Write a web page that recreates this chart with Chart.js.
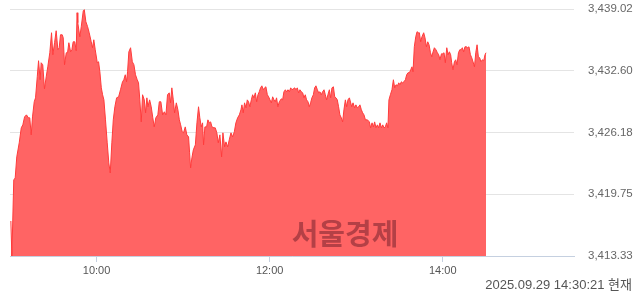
<!DOCTYPE html>
<html>
<head>
<meta charset="utf-8">
<script src="https://cdn.jsdelivr.net/npm/chart.js@4/dist/chart.umd.min.js"></script>
<style>
  html, body { margin: 0; padding: 0; background: #fff; }
  #wrap { width: 640px; height: 294px; }
</style>
</head>
<body>
<div id="wrap"><canvas id="chart"></canvas></div>
<script>
// minutes after 09:00 (intraday ticks)
const minutes = [
  0.6, 1.3, 2.6, 3.6, 4.7, 6.4, 7.8, 8.9, 10.1, 11.4, 12.8, 13.7, 14.7, 15.6, 16.8, 17.7, 18.9, 19.8, 20.9, 21.6,
  22.7, 23.9, 25.1, 26.2, 27.6, 28.8, 29.7, 30.9, 32.0, 33.2, 34.1, 35.0, 36.2, 36.9, 37.8, 39.0, 39.9, 40.8, 42.0, 42.9,
  43.8, 44.9, 45.9, 46.5, 47.0, 48.4, 49.4, 50.8, 51.5, 52.6, 53.8, 54.9, 56.3, 57.2, 58.1, 59.1, 60.5, 61.4, 62.3, 63.3,
  64.2, 65.1, 66.2, 67.4, 68.5, 69.5, 70.6, 71.6, 72.7, 73.9, 75.3, 76.6, 78.0, 78.9, 79.9, 80.8, 81.5, 82.4, 83.6, 84.8,
  85.9, 87.0, 88.2, 89.1, 90.0, 91.0, 91.9, 93.1, 94.0, 94.9, 95.6, 96.8, 97.9, 99.0, 100.0, 101.1, 102.5, 103.5, 104.6, 105.8,
  107.0, 108.1, 109.2, 110.4, 111.3, 112.2, 113.2, 114.1, 115.3, 116.4, 117.4, 118.3, 119.4, 120.3, 121.5, 122.6, 123.8, 124.5, 125.2, 126.1,
  127.1, 128.5, 129.6, 130.7, 131.6, 132.6, 133.5, 134.2, 135.1, 136.3, 137.2, 138.2, 139.1, 140.0, 141.4, 142.3, 143.4, 144.4, 145.5, 146.7,
  147.6, 148.8, 149.7, 150.9, 152.0, 153.2, 154.3, 155.5, 156.6, 157.8, 159.0, 160.1, 160.8, 161.7, 162.6, 163.6, 164.5, 165.4, 166.3, 167.3,
  168.2, 169.1, 170.1, 171.0, 171.9, 172.8, 173.7, 174.6, 175.6, 176.5, 177.4, 178.4, 179.3, 180.2, 181.2, 182.1, 183.0, 183.9, 184.8, 185.7,
  186.7, 188.1, 189.0, 189.9, 190.9, 191.8, 192.7, 193.7, 194.6, 195.5, 196.4, 197.4, 198.2, 199.2, 200.1, 201.0, 202.0, 202.9, 203.8, 204.7,
  205.6, 206.6, 207.5, 208.4, 209.3, 210.3, 211.2, 212.1, 213.1, 214.0, 214.9, 215.8, 216.7, 217.7, 218.6, 219.5, 220.4, 221.4, 222.3, 223.2,
  224.2, 225.1, 226.0, 226.9, 227.8, 228.7, 229.7, 230.6, 231.5, 232.5, 233.4, 234.3, 235.3, 236.9, 237.8, 238.9, 239.8, 240.8, 241.7, 242.6,
  243.6, 244.5, 245.4, 246.4, 247.8, 249.1, 250.0, 251.0, 251.9, 252.8, 253.7, 254.7, 255.6, 256.5, 257.5, 258.4, 259.3, 260.2, 261.1, 262.0,
  262.7, 263.7, 264.8, 265.8, 266.7, 267.6, 268.6, 269.5, 270.4, 271.3, 272.2, 273.1, 274.1, 275.0, 275.9, 276.9, 277.8, 278.7, 279.4, 280.3,
  281.3, 282.2, 283.1, 283.8, 284.7, 285.6, 286.8, 287.7, 288.7, 289.6, 290.5, 291.5, 292.4, 293.3, 294.2, 295.3, 296.3, 297.2, 298.1, 299.1,
  300.0, 300.9, 301.8, 302.8, 303.7, 304.6, 305.5, 306.2, 307.1, 308.1, 309.0, 309.9, 310.9, 311.8, 312.7, 313.6, 314.5, 315.4, 316.4, 317.3,
  318.2, 319.2, 320.1, 321.0, 322.0, 322.9, 323.8, 324.7, 325.6, 326.5, 327.5, 328.4, 329.3, 330.0
];

const prices = [
  3416.97, 3413.33, 3421.24, 3421.45, 3423.64, 3425.10, 3426.66, 3426.97, 3427.80, 3428.01, 3427.70, 3427.70, 3425.93, 3427.80, 3429.37, 3429.78, 3431.97, 3433.64, 3431.66, 3433.43,
  3433.22, 3430.72, 3431.97, 3433.01, 3434.47, 3436.55, 3434.26, 3435.51, 3436.76, 3434.78, 3434.99, 3436.34, 3436.34, 3436.03, 3433.22, 3434.47, 3434.47, 3435.51, 3434.57, 3434.78,
  3435.61, 3435.61, 3434.68, 3438.63, 3437.59, 3436.13, 3437.18, 3438.84, 3438.95, 3437.70, 3437.18, 3436.55, 3435.61, 3434.99, 3435.82, 3434.78, 3433.43, 3433.53, 3432.49, 3430.82,
  3430.10, 3429.57, 3427.49, 3425.10, 3423.01, 3421.97, 3425.10, 3427.49, 3428.85, 3429.78, 3429.89, 3430.62, 3431.45, 3431.66, 3432.18, 3431.45, 3432.49, 3434.57, 3434.99, 3433.53,
  3433.22, 3432.18, 3431.66, 3431.34, 3429.57, 3427.28, 3430.10, 3429.57, 3428.22, 3429.78, 3428.85, 3429.57, 3428.85, 3427.70, 3426.76, 3427.70, 3428.01, 3429.37, 3429.37, 3428.01,
  3428.33, 3428.01, 3430.10, 3430.30, 3429.26, 3430.82, 3429.57, 3428.22, 3429.26, 3428.53, 3427.49, 3426.97, 3426.24, 3426.14, 3426.76, 3425.93, 3425.72, 3424.06, 3422.49, 3423.54,
  3424.37, 3424.89, 3427.18, 3428.85, 3427.70, 3426.76, 3427.18, 3424.89, 3426.76, 3426.76, 3427.49, 3427.18, 3427.28, 3426.76, 3426.66, 3426.66, 3426.14, 3425.10, 3425.93, 3423.64,
  3426.14, 3424.68, 3425.20, 3424.68, 3425.41, 3426.14, 3425.72, 3426.24, 3427.18, 3427.70, 3428.01, 3428.53, 3429.05, 3428.22, 3429.26, 3428.74, 3429.57, 3429.37, 3428.85, 3429.57,
  3430.10, 3429.78, 3430.30, 3429.37, 3430.10, 3430.41, 3430.82, 3431.03, 3430.62, 3430.82, 3430.93, 3430.10, 3429.89, 3429.57, 3429.26, 3429.89, 3429.57, 3429.37, 3429.78, 3428.85,
  3429.37, 3429.68, 3429.57, 3430.41, 3430.62, 3430.41, 3430.62, 3430.41, 3430.82, 3430.62, 3430.72, 3430.82, 3430.62, 3430.82, 3430.30, 3430.62, 3430.41, 3430.30, 3429.78, 3430.10,
  3429.57, 3429.37, 3428.85, 3429.26, 3429.78, 3430.10, 3430.82, 3431.03, 3430.62, 3430.30, 3430.41, 3430.10, 3430.41, 3430.62, 3430.10, 3429.57, 3430.10, 3430.62, 3429.78, 3430.82,
  3430.93, 3429.89, 3429.78, 3429.57, 3428.85, 3428.01, 3427.70, 3427.28, 3428.53, 3429.57, 3428.85, 3429.57, 3429.78, 3428.85, 3429.26, 3428.74, 3429.05, 3428.74, 3428.85, 3429.05,
  3428.53, 3428.22, 3428.01, 3427.49, 3427.49, 3427.28, 3426.66, 3427.18, 3426.76, 3427.28, 3426.66, 3426.97, 3426.66, 3427.18, 3426.66, 3426.97, 3426.66, 3426.76, 3427.18, 3426.66,
  3429.57, 3430.10, 3430.62, 3431.66, 3430.82, 3431.14, 3431.03, 3431.34, 3431.14, 3431.45, 3431.34, 3431.45, 3431.66, 3432.18, 3432.39, 3432.39, 3432.70, 3433.01, 3432.49, 3435.09,
  3436.13, 3436.66, 3436.55, 3436.55, 3435.61, 3436.13, 3436.55, 3436.03, 3435.09, 3435.61, 3435.30, 3434.47, 3434.05, 3434.57, 3434.99, 3434.78, 3434.47, 3434.26, 3433.74, 3434.36,
  3434.36, 3434.47, 3433.43, 3434.99, 3434.26, 3434.57, 3434.26, 3433.43, 3432.70, 3433.53, 3433.74, 3433.22, 3434.47, 3434.78, 3434.78, 3434.99, 3434.57, 3435.09, 3435.09, 3434.99,
  3435.09, 3434.26, 3433.95, 3433.53, 3433.01, 3434.47, 3435.30, 3434.05, 3433.95, 3433.53, 3433.74, 3433.64, 3434.26, 3434.47
];

const yTicks = [3413.33, 3419.75, 3426.18, 3432.60, 3439.02];
const xTicks = [60, 180, 300];
const xTickLabels = ["10:00", "12:00", "14:00"];
const stamp = "2025.09.29 14:30:21 현재";
const brand = "서울경제";

const overlay = {
  id: "overlay",
  afterDatasetsDraw(chart) {
    const ctx = chart.ctx;
    ctx.save();
    ctx.font = "bold 29px 'Noto Sans CJK KR'";
    ctx.fillStyle = "rgba(130,40,50,0.6)";
    ctx.textAlign = "center";
    ctx.textBaseline = "middle";
    ctx.fillText(brand, 345, 234);
    ctx.restore();
  },
  afterDraw(chart) {
    const ctx = chart.ctx;
    ctx.save();
    ctx.font = "13px 'Liberation Sans', 'Noto Sans CJK KR'";
    ctx.fillStyle = "#555";
    ctx.textAlign = "right";
    ctx.textBaseline = "middle";
    ctx.fillText(stamp, 632, 285);
    ctx.restore();
  }
};

new Chart(document.getElementById("chart"), {
  type: "line",
  data: {
    datasets: [{
      data: minutes.map((m, i) => ({ x: m, y: prices[i] })),
      borderColor: "#ff3b3b",
      borderWidth: 1,
      backgroundColor: "#ff6464",
      fill: "start",
      pointRadius: 0,
      tension: 0
    }]
  },
  options: {
    responsive: true,
    maintainAspectRatio: false,
    animation: false,
    layout: { autoPadding: false, padding: { left: 10, top: 9, right: 0, bottom: 0 } },
    plugins: { legend: { display: false }, tooltip: { enabled: false } },
    scales: {
      x: {
        type: "linear",
        min: 0,
        max: 391,
        afterBuildTicks: (s) => { s.ticks = xTicks.map(v => ({ value: v })); },
        afterFit: (s) => { s.height = 38; },
        grid: { drawOnChartArea: false, drawTicks: true, tickLength: 6, color: "#c5d0e0" },
        border: { color: "#c5d0e0" },
        ticks: {
          padding: 2,
          maxRotation: 0,
          color: "#555",
          font: { family: "'Liberation Sans'", size: 11 },
          callback: (v) => xTickLabels[xTicks.indexOf(v)]
        }
      },
      y: {
        position: "right",
        min: yTicks[0],
        max: yTicks[yTicks.length - 1],
        afterBuildTicks: (s) => { s.ticks = yTicks.map(v => ({ value: v })); },
        afterFit: (s) => { s.width = 66; s.paddingTop = 0; s.paddingBottom = 0; },
        grid: { color: "#e4e4e4", drawTicks: false },
        border: { display: false },
        ticks: {
          padding: 14,
          color: "#666",
          font: { family: "'Liberation Sans'", size: 11.5 },
          callback: (v) => v.toLocaleString("en-US", { minimumFractionDigits: 2, maximumFractionDigits: 2 })
        }
      }
    }
  },
  plugins: [overlay]
});
</script>
</body>
</html>
